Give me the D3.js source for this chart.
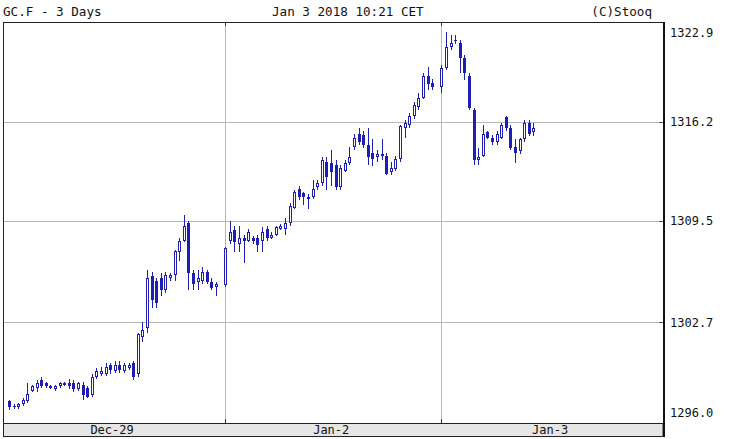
<!DOCTYPE html>
<html>
<head>
<meta charset="utf-8">
<script src="https://cdn.jsdelivr.net/npm/d3@7"></script>
<style>
  html, body { margin: 0; padding: 0; background: #fff; }
  svg { display: block; }
  text { font-family: "DejaVu Sans Mono", monospace; fill: #111; }
</style>
</head>
<body>
<script>
// ---- data (30-minute candles, GC.F) ----
const dayLabels = ["Dec-29", "Jan-2", "Jan-3"];
const candlesPerDay = [46, 46, 21];
const slotsPerDay = 47;
const yTicks = [1296.0, 1302.7, 1309.5, 1316.2, 1322.9];

const openDec29 = [1297.4,1297.1,1297.0,1297.2,1297.4,1298.1,1298.3,1298.8,1298.6,1298.4,1298.2,1298.4,1298.5,1298.6,1298.6,1298.2,1298.5,1298.3,1297.8,1299.0,1299.2,1299.2,1299.8,1299.4,1299.8,1299.4,1299.6,1300.0,1299.2,1301.7,1302.3,1305.8,1305.5,1305.7,1304.9,1305.7,1305.9,1307.4,1308.2,1309.4,1306.0,1305.4,1305.5,1306.1,1305.4,1305.1];
const highDec29 = [1297.5,1297.2,1297.3,1297.6,1298.6,1298.5,1298.8,1299.0,1298.7,1298.5,1298.5,1298.7,1298.7,1298.9,1298.8,1298.7,1298.7,1298.4,1299.2,1299.6,1299.7,1300.0,1300.0,1300.1,1300.1,1300.0,1300.0,1300.1,1302.0,1302.7,1306.2,1306.1,1305.7,1306.0,1306.1,1306.0,1307.6,1308.4,1309.9,1309.5,1306.2,1306.2,1306.4,1306.2,1305.7,1305.4];
const lowDec29  = [1296.8,1296.9,1296.9,1297.1,1297.3,1298.0,1298.0,1298.3,1298.3,1298.2,1298.1,1298.3,1298.4,1298.2,1298.0,1298.1,1297.5,1297.6,1297.7,1298.9,1299.1,1299.1,1299.2,1299.3,1299.3,1299.3,1299.5,1298.8,1299.0,1301.4,1302.0,1303.7,1303.7,1304.5,1304.7,1305.5,1305.5,1306.8,1308.1,1304.9,1304.9,1304.9,1305.3,1305.3,1304.9,1304.5];
const closeDec29 = [1297.0,1297.0,1297.2,1297.5,1297.9,1298.4,1298.6,1298.4,1298.4,1298.3,1298.4,1298.6,1298.6,1298.4,1298.2,1298.6,1297.8,1297.7,1299.0,1299.4,1299.4,1299.7,1299.5,1299.8,1299.5,1299.8,1299.8,1299.0,1301.9,1302.2,1305.7,1304.2,1304.0,1304.9,1305.9,1305.9,1307.5,1308.2,1309.2,1306.0,1305.3,1305.7,1306.1,1305.4,1305.0,1305.3];

const openJan2 = [1305.2,1308.2,1308.9,1308.0,1308.4,1308.2,1308.4,1308.4,1308.2,1309.0,1308.4,1308.6,1309.0,1309.0,1309.4,1310.4,1311.7,1311.4,1311.1,1311.1,1311.8,1312.1,1313.5,1313.4,1313.3,1311.8,1312.9,1313.4,1314.5,1315.4,1315.3,1314.6,1314.1,1313.8,1313.9,1313.9,1312.8,1313.0,1313.7,1315.8,1316.0,1316.6,1317.2,1317.8,1319.3,1318.8];
const highJan2 = [1307.8,1309.5,1309.2,1309.2,1308.6,1309.0,1308.5,1308.6,1309.1,1309.2,1308.8,1309.2,1309.3,1309.7,1310.7,1311.6,1311.9,1311.5,1311.3,1312.3,1312.3,1313.8,1313.8,1314.3,1313.6,1313.3,1313.6,1314.5,1315.4,1315.8,1315.6,1315.8,1315.0,1314.3,1315.0,1314.1,1313.5,1313.9,1316.0,1316.3,1316.8,1317.5,1318.1,1319.5,1319.9,1319.1];
const lowJan2  = [1305.1,1308.0,1307.4,1307.4,1306.7,1308.1,1308.0,1307.4,1307.4,1308.2,1308.3,1308.5,1308.9,1308.6,1309.2,1310.3,1310.9,1310.6,1310.3,1311.0,1311.6,1311.9,1311.6,1311.9,1311.6,1311.6,1312.8,1313.3,1314.3,1314.6,1314.4,1313.3,1313.2,1313.5,1313.6,1312.6,1312.6,1312.9,1313.5,1315.1,1315.8,1316.4,1317.0,1317.7,1318.3,1318.3];
const closeJan2 = [1307.7,1308.8,1308.1,1308.4,1308.2,1308.8,1308.2,1307.9,1308.8,1308.4,1308.6,1309.1,1309.2,1309.4,1310.5,1311.5,1311.1,1311.1,1311.0,1311.7,1312.1,1313.6,1312.5,1312.8,1311.8,1313.1,1313.4,1313.8,1315.1,1314.8,1314.6,1313.8,1313.7,1314.0,1314.0,1312.7,1313.1,1313.7,1315.9,1316.1,1316.6,1317.3,1317.8,1319.3,1318.7,1318.5];

const openJan3 = [1318.5,1319.8,1321.2,1321.7,1321.5,1320.5,1319.3,1317.0,1313.6,1313.9,1315.5,1315.1,1314.8,1315.1,1316.5,1315.8,1314.5,1314.2,1315.0,1316.1,1315.5];
const highJan3 = [1320.0,1322.2,1322.0,1322.0,1321.7,1320.7,1319.5,1317.1,1314.4,1316.0,1315.6,1315.3,1315.6,1316.1,1316.6,1316.0,1315.0,1315.1,1316.3,1316.3,1316.1];
const lowJan3  = [1318.1,1319.7,1321.0,1321.4,1319.5,1319.0,1317.0,1313.3,1313.3,1313.8,1315.0,1314.6,1314.6,1315.0,1315.6,1314.3,1313.4,1314.0,1314.8,1315.2,1315.2];
const closeJan3 = [1319.8,1321.2,1321.5,1321.6,1320.5,1319.5,1317.1,1313.6,1313.8,1315.4,1315.1,1314.8,1315.4,1316.0,1315.8,1314.4,1314.1,1315.0,1316.1,1315.4,1315.8];

const opens  = [openDec29, openJan2, openJan3];
const highs  = [highDec29, highJan2, highJan3];
const lows   = [lowDec29, lowJan2, lowJan3];
const closes = [closeDec29, closeJan2, closeJan3];

// ---- build candle records ----
const candles = [];
dayLabels.forEach((d, di) => {
  for (let s = 0; s < candlesPerDay[di]; s++) {
    candles.push({
      slot: di * slotsPerDay + s,
      o: opens[di][s], h: highs[di][s], l: lows[di][s], c: closes[di][s]
    });
  }
});

// ---- layout ----
const W = 730, H = 439;
const L = 3, R = 663, T = 22, B = 422, bandTop = 423, bandBot = 437;
const blue = "#1e1eb4";

const svg = d3.select("body").append("svg").attr("width", W).attr("height", H);

const x = d3.scaleLinear().domain([-1.3, 142.2]).range([L, R]);
const y = d3.scaleLinear().domain([yTicks[0], yTicks[yTicks.length - 1]]).range([B, T]);

// gridlines
const inner = yTicks.slice(1, -1);
svg.append("g").selectAll("line").data(inner).join("line")
  .attr("x1", L).attr("x2", R)
  .attr("y1", d => Math.round(y(d)) + 0.5).attr("y2", d => Math.round(y(d)) + 0.5)
  .attr("stroke", "#b8b8b8").attr("stroke-width", 1);
// right-edge small ticks
svg.append("g").selectAll("line").data(inner).join("line")
  .attr("x1", R - 4).attr("x2", R)
  .attr("y1", d => Math.round(y(d)) + 0.5).attr("y2", d => Math.round(y(d)) + 0.5)
  .attr("stroke", "#555").attr("stroke-width", 1);

const dayStarts = [1, 2].map(i => i * slotsPerDay);
svg.append("g").selectAll("line").data(dayStarts).join("line")
  .attr("x1", d => Math.round(x(d)) + 0.5).attr("x2", d => Math.round(x(d)) + 0.5)
  .attr("y1", T).attr("y2", bandTop)
  .attr("stroke", "#b8b8b8").attr("stroke-width", 1);
// small dark ticks at top and bottom of vertical grid
svg.append("g").selectAll("line").data(dayStarts).join("line")
  .attr("x1", d => Math.round(x(d)) + 0.5).attr("x2", d => Math.round(x(d)) + 0.5)
  .attr("y1", T).attr("y2", T + 4).attr("stroke", "#333");
svg.append("g").selectAll("line").data(dayStarts).join("line")
  .attr("x1", d => Math.round(x(d)) + 0.5).attr("x2", d => Math.round(x(d)) + 0.5)
  .attr("y1", bandTop - 4).attr("y2", bandTop).attr("stroke", "#333");

// bottom band
svg.append("rect").attr("x", L + 0.5).attr("y", bandTop + 0.5)
  .attr("width", R - L - 0.5).attr("height", bandBot - bandTop - 1)
  .attr("fill", "#e6e6e6").attr("stroke", "#222").attr("stroke-width", 1);

// plot frame
svg.append("line").attr("x1", L).attr("x2", R).attr("y1", T + 0.5).attr("y2", T + 0.5).attr("stroke", "#222");
svg.append("line").attr("x1", L + 0.5).attr("x2", L + 0.5).attr("y1", T).attr("y2", bandBot).attr("stroke", "#222");
svg.append("line").attr("x1", R + 1).attr("x2", R + 1).attr("y1", T).attr("y2", bandBot).attr("stroke", "#111").attr("stroke-width", 2);

// candles
const g = svg.append("g").attr("shape-rendering", "crispEdges");
const cg = g.selectAll("g").data(candles).join("g");
cg.append("line")
  .attr("x1", d => Math.round(x(d.slot)) + 0.5).attr("x2", d => Math.round(x(d.slot)) + 0.5)
  .attr("y1", d => y(d.h)).attr("y2", d => y(d.l))
  .attr("stroke", blue).attr("stroke-width", 1);
cg.each(function(d) {
  const r = Math.round(x(d.slot));
  const top = y(Math.max(d.o, d.c)), bot = y(Math.min(d.o, d.c));
  const sel = d3.select(this);
  if (d.c >= d.o) {
    sel.append("rect").attr("x", r - 0.5).attr("y", top + 0.5)
      .attr("width", 2).attr("height", Math.max(bot - top - 1, 1))
      .attr("fill", "#fff").attr("stroke", blue).attr("stroke-width", 1);
  } else {
    sel.append("rect").attr("x", r - 1).attr("y", top)
      .attr("width", 3).attr("height", Math.max(bot - top, 1.5))
      .attr("fill", blue);
  }
});

// y labels on right
svg.append("g").selectAll("text").data(yTicks).join("text")
  .attr("x", 670)
  .attr("y", d => Math.min(Math.max(y(d), 33), 413))
  .attr("dy", "0.35em")
  .attr("font-size", 12)
  .text(d => d.toFixed(1));

// day labels in band
const bounds = [L, ...dayStarts.map(s => x(s)), R];
svg.append("g").selectAll("text").data(dayLabels).join("text")
  .attr("x", (d, i) => (bounds[i] + bounds[i + 1]) / 2 - 2)
  .attr("y", 434)
  .attr("text-anchor", "middle")
  .attr("font-size", 12)
  .text(d => d);

// header
svg.append("text").attr("x", 3).attr("y", 16).attr("font-size", 12.6).text("GC.F - 3 Days");
svg.append("text").attr("x", 272).attr("y", 16).attr("font-size", 12.6).text("Jan 3 2018 10:21 CET");
svg.append("text").attr("x", 652).attr("y", 16).attr("text-anchor", "end").attr("font-size", 12.6).text("(C)Stooq");
</script>
</body>
</html>
